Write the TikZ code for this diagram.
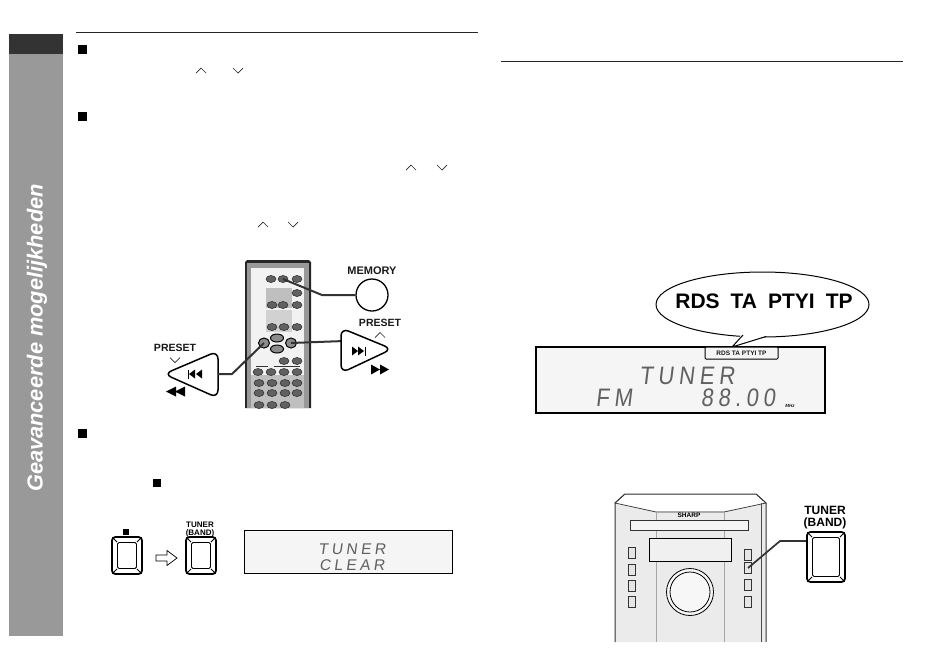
\documentclass[tikz,border=0pt]{standalone}
\usepackage{fontspec}
\setmainfont{Liberation Sans}
\newfontfamily\lcdfont[FakeSlant=0.14,LetterSpace=22]{Liberation Sans}
\newcommand{\pxfont}[1]{\fontsize{#1}{#1}\selectfont}
\newcommand{\pxfontl}[2]{\fontsize{#1}{#2}\selectfont}
\tikzset{
  x=1pt,y=-1pt,
  rulefine/.style={draw=black!85,line width=1pt},
  bullet/.style={fill=black,draw=none,minimum size=9pt,inner sep=0pt,outer sep=0pt},
  caretline/.style={draw=black!85,line width=.7pt},
  leader/.style={draw=black!80,line width=2pt},
  keyouter/.style={draw=black,line width=1.8pt,fill=white,rounded corners=3.5pt,minimum width=30pt,minimum height=37pt,inner sep=0pt},
  keyinner/.style={draw=black,line width=.8pt,rounded corners=1.5pt,inner sep=0pt},
  lcd/.style={draw=black,fill=black!4,inner sep=0pt},
  lcdtext/.style={text=black!62,inner sep=0pt},
  label/.style={inner sep=0pt,font=\bfseries,text=black!90,align=center},
  rbtn/.style={ellipse,draw=black!85,fill=black!62,line width=.5pt,minimum width=10pt,minimum height=7pt,inner sep=0pt},
  dbtn/.style={ellipse,draw=black,fill=black!45,line width=1pt,inner sep=0pt},
  sbtn/.style={draw=black!80,fill=black!10,line width=.7pt,minimum width=7.5pt,minimum height=11pt,inner sep=0pt},
}
\usetikzlibrary{shapes.geometric}
\newcommand{\caretup}[2]{\draw[caretline] (#1-5,#2+2.5) -- (#1,#2-2.5) -- (#1+5,#2+2.5);}
\newcommand{\caretdn}[2]{\draw[caretline] (#1-5,#2-2.5) -- (#1,#2+2.5) -- (#1+5,#2-2.5);}
% key: name, centre x, centre y, width, height
\newcommand{\bigkey}[5]{%
  \node[keyouter,minimum width=#4pt,minimum height=#5pt] (#1) at (#2,#3) {};
  \node[keyinner,minimum width=#4pt-11pt,minimum height=#5pt-11pt] (#1in) at (#2,#3) {};
  \draw[line width=.8pt] ([shift={(1.2,1.2)}]#1.north west) -- (#1in.north west) ([shift={(-1.2,1.2)}]#1.north east) -- (#1in.north east)
    ([shift={(1.2,-1.2)}]#1.south west) -- (#1in.south west) ([shift={(-1.2,-1.2)}]#1.south east) -- (#1in.south east);
}
\begin{document}
\begin{tikzpicture}
\useasboundingbox (0,0) rectangle (950,657);
% sidebar
\fill[black!40] (9,54) rectangle (63,636);
\fill[black!80] (9,34) rectangle (63,54);
\node[rotate=90,text=white,inner sep=0pt,font=\pxfont{21.8}\bfseries\itshape] (sidetitle) at (37,338) {Geavanceerde mogelijkheden};
% rules
\draw[rulefine] (76,32) -- (478,32);
\draw[rulefine] (501,61) -- (903,61);
% bullets
\node[bullet] (b1) at (82.5,49) {};
\node[bullet] (b2) at (82.5,116) {};
\node[bullet] (b3) at (82.5,433) {};
\node[bullet,minimum size=8pt] (b4) at (157,483) {};
% carets
\caretup{201}{70.5}\caretdn{238}{70.5}
\caretup{411}{167.5}\caretdn{442}{167.5}
\caretup{263}{224.5}\caretdn{293}{224.5}
% remote
\fill[black!85] (245,408) -- (245,262) -- (247,260) -- (309,260) -- (311,262) -- (311,408) -- cycle;
\fill[black!40] (247,408) -- (247,263) -- (309,263) -- (309,408) -- cycle;
\fill[black!5] (251,268) rectangle (304,408);
\fill[black!25] (266,288) rectangle (292,308);
\fill[black!18] (266,310) rectangle (292,332);
\fill[black!25] (251,375) rectangle (304,408);
\foreach \n/\x/\y in {r1/271/279,rmem/283/279,r3/297/279,r4/272/305,r5/283/305,r6/272/327,r7/284/327,r8/297/293,r9/297/305,r10/297/327,r11/284/361,r12/297/361,r13/258/372,r14/271/372,r15/284/372,r16/297/372,r17/259/383,r18/272/383,r19/285/383,r20/297/383,r21/259/393,r22/272/393,r23/285/393,r24/297/393,r25/259/405,r26/272/405,r27/285/405}
  \node[rbtn] (\n) at (\x,\y) {};
\node[dbtn,minimum width=13pt,minimum height=8pt] (rup) at (277,338) {};
\node[dbtn,minimum width=13pt,minimum height=8pt] (rdn) at (277,349) {};
\node[dbtn,minimum width=11pt,minimum height=10pt] (rprev) at (264,343) {};
\node[dbtn,minimum width=11pt,minimum height=10pt] (rnext) at (291,343) {};
\draw[black!80,line width=1pt] (256,366) -- (268,366) (274,366) -- (300,366);
% memory button
\node[label,font=\pxfont{11}\bfseries] (memlbl) at (372,271) {MEMORY};
\node[circle,draw=black,line width=1.3pt,fill=white,minimum size=32pt,inner sep=0pt] (membtn) at (372,295) {};
\coordinate (memcorner) at (322,295);
\draw[leader] (rmem.center) -- (memcorner) -- (membtn.west);
% next button
\coordinate (nextend) at (344,341);
\draw[leader] (rnext.center) -- (nextend);
\path[draw=black,line width=1.5pt,fill=white,rounded corners=8pt] (341,328) -- (392,349) -- (341,373) -- cycle;
\coordinate (nexticon) at (362,351);
\fill (352,346.5) -- (358,351) -- (352,355.5) -- cycle (358,346.5) -- (364,351) -- (358,355.5) -- cycle;
\draw[line width=1pt] (365,346.5) -- (365,355.5);
\fill (371,364.5) -- (380,369.5) -- (371,374.5) -- cycle (380,364.5) -- (389,369.5) -- (380,374.5) -- cycle;
\node[label,font=\pxfont{10.5}\bfseries] (presetr) at (380,323) {PRESET};
\caretup{380}{335}
% prev button
\coordinate (prevend) at (218,374);
\coordinate (prevcorner) at (232,374);
\path[draw=black,line width=1.5pt,fill=white,rounded corners=8pt] (164,374) -- (218,351) -- (218,398) -- cycle;
\draw[leader] (rprev.center) -- (prevcorner) -- (prevend);
\fill (195,369.5) -- (189,374) -- (195,378.5) -- cycle (202,369.5) -- (196,374) -- (202,378.5) -- cycle;
\draw[line width=1pt] (188,369.5) -- (188,378.5);
\fill (176,386.5) -- (166,391.5) -- (176,396.5) -- cycle (185,386.5) -- (175,391.5) -- (185,396.5) -- cycle;
\node[label,font=\pxfont{10.5}\bfseries] (presetl) at (175,348) {PRESET};
\caretdn{175}{360}
% stop + tuner keys
\bigkey{stopkey}{127}{555.5}{30}{37}
\node[bullet,minimum size=6.5pt] (stopmark) at (126,532) {};
\draw[line width=.7pt,fill=white] (156,555) -- (167,555) -- (167,550.5) -- (177,558) -- (167,565.5) -- (167,561) -- (156,561) -- cycle;
\bigkey{tunerkey}{201}{555.5}{30}{37}
\node[label,font=\pxfontl{8}{7.8}\bfseries,text=black] (tunerlbl) at (200,529.5) {TUNER\\(BAND)};
% clear display
\node[lcd,line width=.7pt,minimum width=208pt,minimum height=43pt] (cleardisp) at (348,551.5) {};
\node[lcdtext,font=\lcdfont\pxfont{15.5}] (lcd1) at (352,549.5) {TUNER};
\node[lcdtext,font=\lcdfont\pxfont{15.5}] (lcd2) at (352,565.5) {CLEAR};
% balloon
\node[ellipse,draw=black,line width=1pt,fill=white,minimum width=213pt,minimum height=65pt,inner sep=0pt] (balloon) at (762.5,304.5) {};
% tuner display
\node[lcd,line width=1.5pt,minimum width=289pt,minimum height=66pt] (fmdisp) at (680.5,380) {};
\fill[white] (744,330) -- (734,346) -- (766,336) -- (766,330) -- cycle;
\coordinate (tailtip) at (732,347);
\draw[black,line width=1pt] (743,335) -- (tailtip) -- (766,336.5);
\node[draw=black,line width=1pt,fill=black!4,rounded corners=1pt,minimum width=73pt,minimum height=12pt,inner sep=0pt] (tab) at (741.5,353) {};
\node[label,font=\pxfont{6.5}\bfseries] (tabtext) at (741.5,353.5) {RDS TA PTYI TP};
\node[label,font=\pxfont{21}\bfseries,text=black] (rdstext) at (764,301.5) {RDS\hspace{11pt}TA\hspace{11pt}PTYI\hspace{11pt}TP};
\node[lcdtext,font=\lcdfont\pxfont{22}] (lcd3) at (687,376) {\scalebox{1}[1.15]{TUNER}};
\node[lcdtext,font=\lcdfont\pxfont{22}] (lcd4) at (614,398) {\scalebox{1}[1.15]{FM}};
\node[lcdtext,font=\lcdfont\pxfont{22}] (lcd5) at (738,398) {\scalebox{1}[1.15]{88.00}};
\node[label,font=\pxfont{4.5}\bfseries\itshape] (mhz) at (790,406) {MHz};
% main unit
\begin{scope}
\clip (605,485) rectangle (775,642);
\path[draw=black!80,line width=1pt,fill=black!8] (615,642) -- (615,503) -- (625,494) -- (756,494) -- (766,503) -- (766,642);
\fill[white] (625,495) -- (756,495) -- (765,503) -- (724,511) -- (656,511) -- (616,503) -- cycle;
\draw[black!80,line width=.7pt] (625,494) -- (615,503) -- (656,512) -- (724,512) -- (766,503) -- (756,494);
\draw[black!35,line width=1pt] (656,512) -- (656,642) (724,512) -- (724,642);
\draw[black!70,line width=1pt] (761,503) -- (761,642);
\end{scope}
\node[font=\pxfont{6.5}\bfseries,inner sep=0pt] (sharp) at (689,515.5) {SHARP};
\node[draw=black!80,line width=.8pt,fill=black!4,minimum width=118pt,minimum height=10pt,inner sep=0pt] (slot) at (689,525) {};
\node[draw=black,line width=.8pt,fill=black!6,minimum width=82pt,minimum height=23pt,inner sep=0pt] (unitdisp) at (690,549.5) {};
\node[circle,draw=black,line width=.8pt,fill=black!3,minimum size=47pt,inner sep=0pt] (knobout) at (690,592) {};
\node[circle,draw=black,line width=.8pt,fill=black!3,minimum size=40pt,inner sep=0pt] (knobin) at (690,592) {};
\foreach \n/\x/\y in {s1/632/553,s2/632/570,s3/632/586,s4/632/602,s5/748/555,s6/748/568,s7/748/585,s8/748/602}
  \node[sbtn] (\n) at (\x,\y) {};
\coordinate (unitcorner) at (780,541);
\coordinate (unitend) at (807,541);
\draw[leader,line width=1.7pt] (s6.center) -- (unitcorner) -- (unitend);
\bigkey{tunerbig}{826}{557}{38}{50}
\node[label,font=\pxfontl{12}{11.6}\bfseries,text=black] (tunerbiglbl) at (825,517.5) {TUNER\\(BAND)};
\end{tikzpicture}
\end{document}
